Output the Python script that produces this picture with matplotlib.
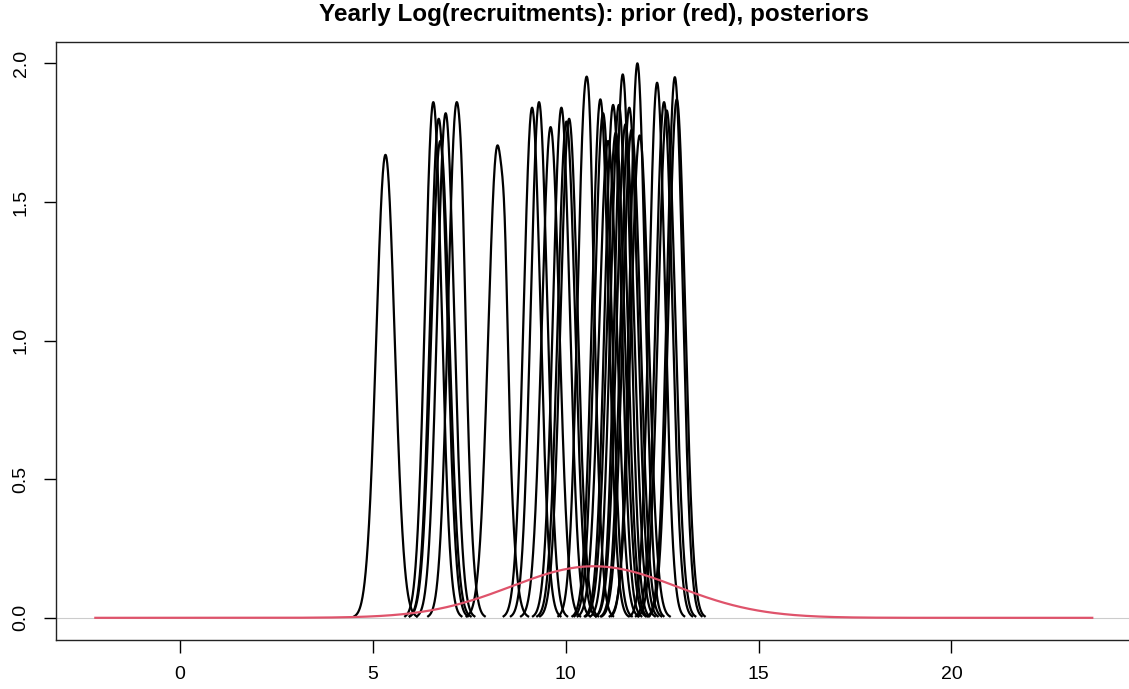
import matplotlib
matplotlib.use('Agg')
import matplotlib.pyplot as plt
import numpy as np

plt.rcParams['font.family'] = ['Liberation Sans', 'DejaVu Sans']

# posterior densities: peak location and peak height
post_centre = [5.33, 6.57, 6.71, 6.75, 6.89, 7.17, 8.23, 9.13, 9.31, 9.61, 9.89,
               10.02, 10.09, 10.52, 10.90, 10.97, 11.10, 11.23, 11.30, 11.38, 11.48,
               11.55, 11.65, 11.71, 11.86, 11.92, 12.37, 12.55, 12.62, 12.83, 12.88]
post_peak = [1.67, 1.86, 1.80, 1.72, 1.82, 1.85, 1.70, 1.84, 1.86, 1.77, 1.84,
             1.79, 1.80, 1.91, 1.87, 1.82, 1.72, 1.85, 1.75, 1.85, 1.96,
             1.78, 1.84, 1.76, 2.00, 1.74, 1.93, 1.86, 1.83, 1.95, 1.87]

# shoulders on a few of the posterior curves: (curve index, location, extra height)
shoulder_curve = [5, 6, 13]
shoulder_loc = [7.33, 8.43, 10.64]
shoulder_height = [0.12, 0.22, 0.14]

# prior (red)
prior_mean = 10.73
prior_sd = 2.15
prior_peak = 0.186
prior_range = (-2.19, 23.65)

xticks = [0, 5, 10, 15, 20]
yticks = [0.0, 0.5, 1.0, 1.5, 2.0]

fig = plt.figure(figsize=(11.29, 6.89), dpi=100)
ax = fig.add_axes([56 / 1129, 1 - 640 / 689, 1076 / 1129, 598 / 689])

ax.axhline(0, color='#cccccc', lw=0.8, zorder=1)

for i, (mu, h) in enumerate(zip(post_centre, post_peak)):
    sd = 1 / (h * np.sqrt(2 * np.pi))
    x = np.linspace(mu - 3.4 * sd, mu + 3.4 * sd, 300)
    y = h * np.exp(-0.5 * ((x - mu) / sd) ** 2)
    for k, c in enumerate(shoulder_curve):
        if c == i:
            y = y + shoulder_height[k] * np.exp(-0.5 * ((x - shoulder_loc[k]) / 0.07) ** 2)
    ax.plot(x, y, color='black', lw=1.6, zorder=2)

xp = np.linspace(prior_range[0], prior_range[1], 600)
yp = prior_peak * np.exp(-0.5 * ((xp - prior_mean) / prior_sd) ** 2)
ax.plot(xp, yp, color='#DF536B', lw=1.6, zorder=3)

ax.set_xlim(-3.21, 24.68)
ax.set_ylim(-0.08, 2.077)
ax.set_xticks(xticks)
ax.set_xticklabels([str(t) for t in xticks])
ax.set_yticks(yticks)
ax.set_yticklabels(['%.1f' % t for t in yticks], rotation=90, va='center')
ax.tick_params(axis='both', length=9, width=1, labelsize=14, pad=10, color='black')

for s in ax.spines.values():
    s.set_linewidth(1)
    s.set_color('#222222')

fig.text(594 / 1129, 1 - 15 / 689, 'Yearly Log(recruitments): prior (red), posteriors',
         ha='center', va='center', fontsize=17.5, fontweight='bold')

fig.savefig('out.png', dpi=100)
